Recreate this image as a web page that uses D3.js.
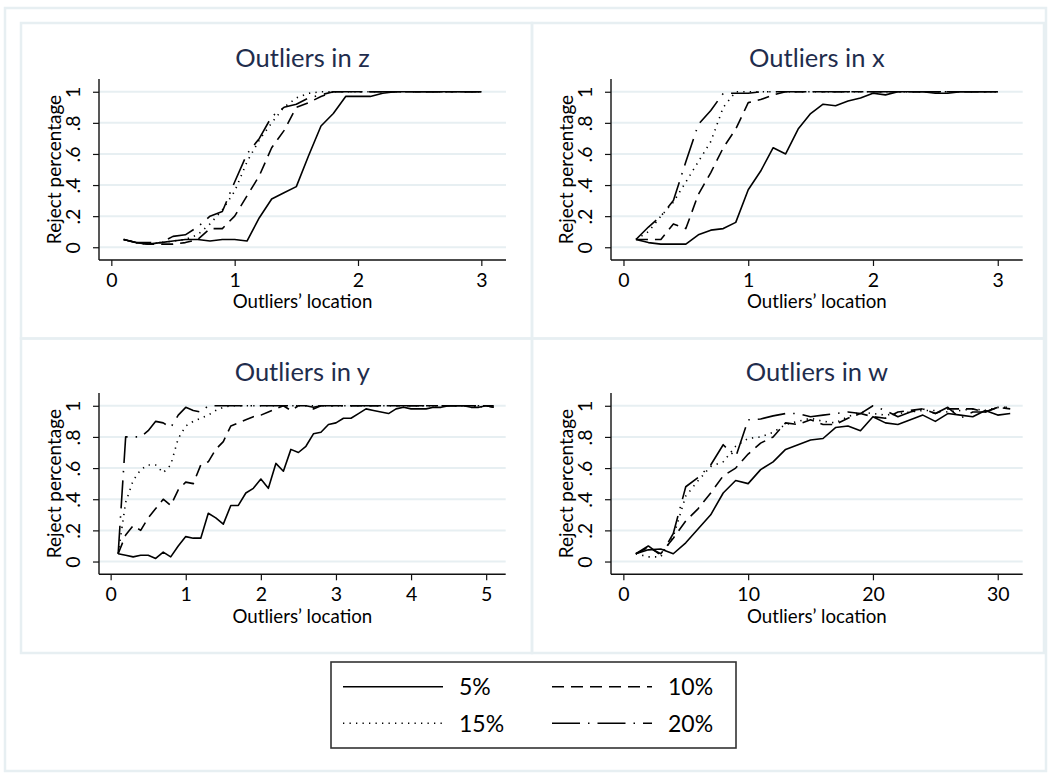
<!DOCTYPE html>
<html>
<head>
<meta charset="utf-8">
<script src="https://cdn.jsdelivr.net/npm/d3@7"></script>
<style>
  html, body { margin: 0; padding: 0; background: #ffffff; }
  svg { display: block; }
  text { font-family: Lato, "Open Sans", sans-serif; fill: #000; }
</style>
</head>
<body>
<svg id="chart" width="1049" height="774"></svg>
<script>
// ---- data -------------------------------------------------------------
// outlier locations (x values) for each simulation design
const locZ = [0.1,0.2,0.3,0.4,0.5,0.6,0.7,0.8,0.9,1.0,1.1,1.2,1.3,1.4,1.5,1.6,1.7,1.8,1.9,2.0,2.1,2.2,2.3,2.4,2.5,2.6,2.7,2.8,2.9,3.0];
const locX = [0.1,0.2,0.3,0.4,0.5,0.6,0.7,0.8,0.9,1.0,1.1,1.2,1.3,1.4,1.5,1.6,1.7,1.8,1.9,2.0,2.1,2.2,2.3,2.4,2.5,2.6,2.7,2.8,2.9,3.0];
const locY = [0.1,0.2,0.3,0.4,0.5,0.6,0.7,0.8,0.9,1.0,1.1,1.2,1.3,1.4,1.5,1.6,1.7,1.8,1.9,2.0,2.1,2.2,2.3,2.4,2.5,2.6,2.7,2.8,2.9,3.0,3.1,3.2,3.3,3.4,3.5,3.6,3.7,3.8,3.9,4.0,4.1,4.2,4.3,4.4,4.5,4.6,4.7,4.8,4.9,5.0,5.1];
const locW = [1,2,3,4,5,6,7,8,9,10,11,12,13,14,15,16,17,18,19,20,21,22,23,24,25,26,27,28,29,30,31];

// rejection percentages, outliers in z
const z05 = [0.05,0.03,0.02,0.03,0.04,0.05,0.05,0.04,0.05,0.05,0.04,0.19,0.31,0.35,0.39,0.59,0.78,0.86,0.97,0.97,0.97,0.99,1,1,1,1,1,1,1,1];
const z10 = [0.05,0.03,0.02,0.02,0.02,0.03,0.05,0.12,0.12,0.20,0.33,0.46,0.64,0.75,0.90,0.93,0.97,1,1,1,1,1,1,1,1,1,1,1,1,1];
const z15 = [0.05,0.03,0.02,0.03,0.04,0.05,0.08,0.15,0.24,0.36,0.55,0.69,0.80,0.90,0.96,0.99,1,1,1,1,1,1,1,1,1,1,1,1,1,1];
const z20 = [0.05,0.03,0.03,0.03,0.07,0.08,0.13,0.20,0.23,0.42,0.60,0.70,0.84,0.90,0.92,0.96,0.98,1,1,1,1,1,1,1,1,1,1,1,1,1];

// outliers in x
const x05 = [0.05,0.03,0.02,0.02,0.02,0.08,0.11,0.12,0.16,0.37,0.49,0.64,0.60,0.76,0.86,0.92,0.91,0.94,0.96,0.99,0.98,1,1,1,0.99,0.99,1,1,1,1];
const x10 = [0.05,0.05,0.05,0.15,0.12,0.34,0.48,0.64,0.76,0.93,0.95,0.98,1,1,1,1,1,1,1,1,1,1,1,1,1,1,1,1,1,1];
const x15 = [0.05,0.10,0.20,0.29,0.42,0.55,0.68,0.90,1,1,1,1,1,1,1,1,1,1,1,1,1,1,1,1,1,1,1,1,1,1];
const x20 = [0.05,0.13,0.20,0.30,0.55,0.79,0.88,0.99,0.99,0.99,1,1,1,1,1,1,1,1,1,1,1,1,1,1,1,1,1,1,1,1];

// outliers in y
const y05 = [0.05,0.04,0.03,0.04,0.04,0.02,0.06,0.03,0.10,0.16,0.15,0.15,0.31,0.28,0.24,0.36,0.36,0.44,0.47,0.53,0.47,0.63,0.58,0.72,0.70,0.74,0.82,0.83,0.88,0.89,0.92,0.92,0.95,0.98,0.97,0.96,0.95,0.98,0.99,0.98,0.98,0.98,0.99,0.99,1,1,1,0.99,0.99,1,0.99];
const y10 = [0.05,0.17,0.23,0.20,0.28,0.34,0.40,0.36,0.46,0.51,0.50,0.62,0.64,0.72,0.77,0.87,0.89,0.91,0.93,0.94,0.96,0.98,1,0.97,1,1,0.98,1,1,1,1,1,1,1,1,1,1,1,1,1,1,1,1,1,1,1,1,1,1,1,0.99];
const y15 = [0.05,0.38,0.52,0.59,0.62,0.62,0.57,0.62,0.79,0.87,0.90,0.92,0.94,0.97,0.99,1,1,1,1,1,1,1,1,1,1,1,1,1,1,1,1,1,1,1,1,1,1,1,1,1,1,1,1,1,1,1,1,1,0.99,1,1];
const y20 = [0.05,0.80,0.80,0.80,0.84,0.90,0.89,0.86,0.94,0.99,0.97,0.96,1,1,1,1,1,1,1,1,1,1,1,1,1,1,0.99,1,1,1,1,1,1,1,1,1,1,1,1,1,1,1,1,1,1,1,1,1,1,1,1];

// outliers in w
const w05 = [0.05,0.075,0.08,0.05,0.12,0.21,0.30,0.44,0.52,0.50,0.59,0.64,0.72,0.75,0.78,0.79,0.86,0.87,0.84,0.93,0.89,0.88,0.91,0.94,0.90,0.95,0.94,0.93,0.97,0.94,0.95];
const w10 = [0.05,0.09,0.05,0.15,0.26,0.34,0.44,0.55,0.60,0.69,0.76,0.80,0.89,0.88,0.91,0.88,0.88,0.92,0.95,0.93,0.92,0.96,0.97,0.98,0.95,0.98,0.98,0.98,0.96,0.99,0.98];
const w15 = [0.05,0.03,0.03,0.16,0.42,0.52,0.61,0.64,0.74,0.79,0.80,0.83,0.88,0.90,0.92,0.90,0.89,0.93,0.96,0.95,0.94,0.95,0.96,0.97,0.97,0.96,0.97,0.98,0.97,0.99,0.99];
const w20 = [0.05,0.10,0.04,0.18,0.48,0.54,0.62,0.75,0.67,0.91,0.915,0.935,0.95,0.95,0.93,0.94,0.95,0.96,0.95,1.0,0.97,0.93,0.96,0.98,0.95,0.99,0.92,0.96,0.96,0.99,0.99];

const seriesNames = ["5%", "10%", "15%", "20%"];
const yTicks = [0, 0.2, 0.4, 0.6, 0.8, 1];
const yTickLabels = ["0", ".2", ".4", ".6", ".8", "1"];
const xTicksShort = [0, 1, 2, 3];
const xTicksY = [0, 1, 2, 3, 4, 5];
const xTicksW = [0, 10, 20, 30];
const panelTitles = ["Outliers in z", "Outliers in x", "Outliers in y", "Outliers in w"];
const xAxisTitle = "Outliers\u2019 location";
const yAxisTitle = "Reject percentage";

// ---- styling ----------------------------------------------------------
const dashes = ["none", "12,7", "1.3,5.2", "28,8,1.5,8"];
const frameColor = "#e7eff2";
const gridColor = "#e7eff2";
const titleColor = "#1f2d4d";

const panels = [
  { title: panelTitles[0], loc: locZ, vals: [z05, z10, z15, z20], ticks: xTicksShort,
    xDom: [-0.1, 3.2], box: { L: 99, R: 506, T: 79, B: 260 } },
  { title: panelTitles[1], loc: locX, vals: [x05, x10, x15, x20], ticks: xTicksShort,
    xDom: [-0.1, 3.2], box: { L: 611, R: 1022.7, T: 79, B: 260 } },
  { title: panelTitles[2], loc: locY, vals: [y05, y10, y15, y20], ticks: xTicksY,
    xDom: [-0.155, 5.26], box: { L: 99, R: 505.7, T: 393, B: 574.3 } },
  { title: panelTitles[3], loc: locW, vals: [w05, w10, w15, w20], ticks: xTicksW,
    xDom: [-0.99, 32.0], box: { L: 611, R: 1022.7, T: 393, B: 574.3 } }
];

const svg = d3.select("#chart");

// outer graph frame and the four sub-graph frames
const frames = [
  [5, 8, 1041, 763],
  [21, 23, 511, 315.5],
  [532, 23, 512, 315.5],
  [21, 338.5, 511, 314.5],
  [532, 338.5, 512, 314.5]
];
svg.selectAll("rect.frame").data(frames).join("rect")
  .attr("class", "frame")
  .attr("x", d => d[0]).attr("y", d => d[1])
  .attr("width", d => d[2]).attr("height", d => d[3])
  .attr("fill", "none").attr("stroke", frameColor).attr("stroke-width", 2.5);

panels.forEach(p => {
  const b = p.box;
  const g = svg.append("g");
  const x = d3.scaleLinear().domain(p.xDom).range([b.L, b.R]);
  const y = d3.scaleLinear().domain([-0.082, 1.082]).range([b.B, b.T]);

  // horizontal grid
  g.selectAll("line.grid").data(yTicks).join("line")
    .attr("x1", b.L).attr("x2", b.R)
    .attr("y1", d => y(d)).attr("y2", d => y(d))
    .attr("stroke", gridColor).attr("stroke-width", 2);

  // series
  const line = d3.line().x(d => x(d[0])).y(d => y(d[1]));
  p.vals.forEach((vals, i) => {
    g.append("path")
      .datum(p.loc.map((v, k) => [v, vals[k]]))
      .attr("d", line)
      .attr("fill", "none")
      .attr("stroke", "#000")
      .attr("stroke-width", 1.6)
      .attr("stroke-linejoin", "round")
      .attr("stroke-dasharray", dashes[i]);
  });

  // y axis
  const yAxis = d3.axisLeft(y).tickValues(yTicks).tickSize(6).tickSizeOuter(0)
    .tickFormat((d, i) => yTickLabels[i]);
  const ya = g.append("g").attr("transform", `translate(${b.L},0)`).call(yAxis);
  ya.select(".domain").attr("d", `M0,${b.T}V${b.B}`).attr("stroke", "#111").attr("stroke-width", 1.4);
  ya.selectAll(".tick line").attr("stroke", "#111").attr("stroke-width", 1.2);
  ya.selectAll(".tick text")
    .attr("x", null).attr("dy", null)
    .attr("transform", "translate(-19,0) rotate(-90)")
    .attr("text-anchor", "middle")
    .style("font-size", "19.5px").style("font-family", "Lato").attr("fill", "#000");

  // x axis
  const xAxis = d3.axisBottom(x).tickValues(p.ticks).tickSize(6).tickSizeOuter(0)
    .tickFormat(d3.format("d"));
  const xa = g.append("g").attr("transform", `translate(0,${b.B})`).call(xAxis);
  xa.select(".domain").attr("d", `M${b.L},0H${b.R}`).attr("stroke", "#111").attr("stroke-width", 1.4);
  xa.selectAll(".tick line").attr("stroke", "#111").attr("stroke-width", 1.2);
  xa.selectAll(".tick text")
    .attr("y", 26.5).attr("dy", null)
    .style("font-size", "19.5px").style("font-family", "Lato").attr("fill", "#000");

  // titles
  g.append("text")
    .attr("x", (b.L + b.R) / 2).attr("y", b.T - 12.5)
    .attr("text-anchor", "middle")
    .style("font-size", "25.5px").style("fill", titleColor)
    .text(p.title);
  g.append("text")
    .attr("x", (b.L + b.R) / 2).attr("y", b.B + 48.3)
    .attr("text-anchor", "middle")
    .style("font-size", "18.7px")
    .text(xAxisTitle);
  g.append("text")
    .attr("transform", `translate(${b.L - 38},${(b.T + b.B) / 2}) rotate(-90)`)
    .attr("text-anchor", "middle")
    .style("font-size", "19px")
    .text(yAxisTitle);
});

// legend
const leg = svg.append("g");
leg.append("rect")
  .attr("x", 331).attr("y", 662).attr("width", 405).attr("height", 86)
  .attr("fill", "#fff").attr("stroke", "#333").attr("stroke-width", 1.6);
const legPos = [
  { x: 343, y: 686.7 }, { x: 552, y: 686.7 },
  { x: 343, y: 723.3 }, { x: 552, y: 723.3 }
];
seriesNames.forEach((name, i) => {
  // legend order: 5% 10% / 15% 20%
  const pos = legPos[i];
  leg.append("line")
    .attr("x1", pos.x).attr("x2", pos.x + 100)
    .attr("y1", pos.y).attr("y2", pos.y)
    .attr("stroke", "#000").attr("stroke-width", 1.6)
    .attr("stroke-dasharray", dashes[i]);
  leg.append("text")
    .attr("x", pos.x + 116).attr("y", pos.y + 8.5)
    .style("font-size", "23px")
    .text(name);
});
</script>
</body>
</html>
